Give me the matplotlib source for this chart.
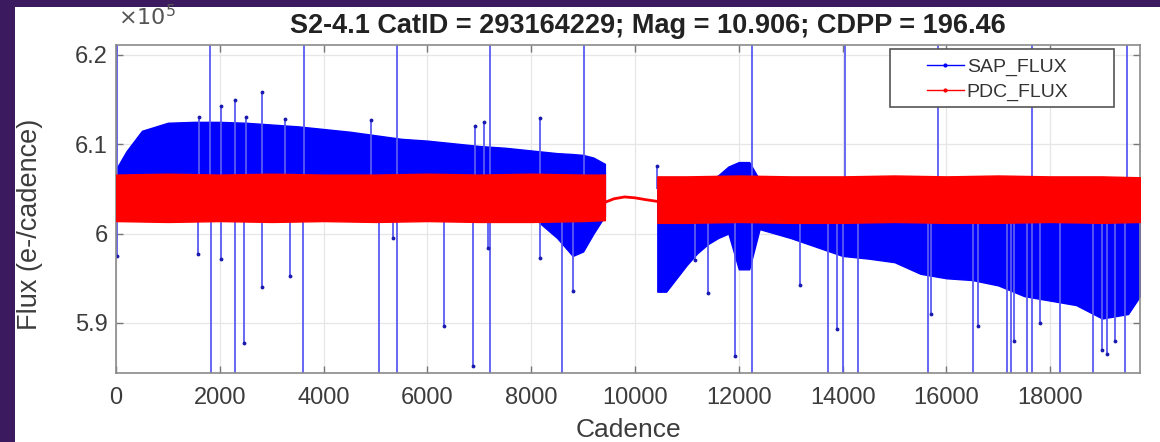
import matplotlib.pyplot as plt
from matplotlib.lines import Line2D
from matplotlib.patches import Rectangle

plt.rcParams['font.family'] = ['Liberation Sans', 'DejaVu Sans']

# flux values are in units of 1e5 e-/cadence
# SAP_FLUX band, first segment (envelope)
sap1_cad = [0, 200, 500, 1000, 1500, 2000, 2500, 3000, 3500, 4000, 4500, 5000, 5500,
            6000, 6500, 7000, 7500, 8000, 8500, 8800, 9000, 9200, 9420]
sap1_hi = [6.072, 6.092, 6.115, 6.124, 6.125, 6.125, 6.124, 6.122, 6.120, 6.117, 6.114, 6.110, 6.106,
           6.104, 6.101, 6.098, 6.096, 6.093, 6.090, 6.089, 6.088, 6.085, 6.078]
sap1_lo = [6.030, 6.035, 6.040, 6.040, 6.040, 6.040, 6.040, 6.040, 6.040, 6.040, 6.040, 6.040, 6.040,
           6.040, 6.040, 6.035, 6.030, 6.020, 5.995, 5.975, 5.980, 6.000, 6.020]

# SAP_FLUX band, second segment
sap2_cad = [10430, 10600, 10800, 11000, 11200, 11400, 11600, 11800, 12000, 12200, 12400, 12700,
            13000, 13500, 14000, 14500, 15000, 15500, 16000, 16500, 17000, 17500, 18000, 18500,
            19000, 19500, 19730]
sap2_hi = [6.060, 6.060, 6.060, 6.060, 6.060, 6.060, 6.065, 6.075, 6.080, 6.080, 6.060, 6.055,
           6.050, 6.045, 6.040, 6.035, 6.030, 6.030, 6.025, 6.020, 6.020, 6.020, 6.015, 6.015,
           6.015, 6.015, 6.015]
sap2_lo = [5.935, 5.935, 5.950, 5.965, 5.978, 5.988, 5.995, 6.000, 5.960, 5.960, 6.005, 6.000,
           5.995, 5.985, 5.975, 5.972, 5.968, 5.955, 5.950, 5.948, 5.942, 5.930, 5.925, 5.920,
           5.905, 5.910, 5.930]

# PDC_FLUX band
pdc1_cad = [0, 1000, 2000, 3000, 4000, 5000, 6000, 7000, 8000, 9000, 9420]
pdc1_hi = [6.066, 6.067, 6.066, 6.067, 6.066, 6.066, 6.067, 6.066, 6.067, 6.066, 6.066]
pdc1_lo = [6.014, 6.013, 6.014, 6.013, 6.014, 6.013, 6.014, 6.013, 6.013, 6.014, 6.015]
gap_cad = [9420, 9600, 9800, 10000, 10200, 10430]
gap_val = [6.035, 6.039, 6.041, 6.040, 6.038, 6.036]
pdc2_cad = [10430, 11000, 12000, 13000, 14000, 15000, 16000, 17000, 18000, 19000, 19730]
pdc2_hi = [6.064, 6.064, 6.065, 6.064, 6.064, 6.065, 6.064, 6.065, 6.064, 6.064, 6.063]
pdc2_lo = [6.012, 6.012, 6.013, 6.012, 6.012, 6.013, 6.012, 6.012, 6.013, 6.012, 6.013]

# single-cadence outliers of SAP_FLUX (values past the limits run off the axes)
up_cad = [10, 1600, 1820, 2020, 2290, 2500, 2810, 3250, 3620, 4920, 5410, 6920, 7100,
          7210, 8170, 9020, 10420, 12250, 14050, 15840, 17650, 19480]
up_val = [6.30, 6.130, 6.30, 6.143, 6.150, 6.130, 6.158, 6.128, 6.30, 6.127, 6.30, 6.120, 6.125,
          6.30, 6.129, 6.30, 6.076, 6.30, 6.30, 6.30, 6.30, 6.30]
dn_cad = [20, 1585, 1830, 2020, 2290, 2470, 2810, 3350, 3610, 5070, 5340, 5410, 6320, 6880,
          7170, 7210, 8170, 8590, 8810, 11160, 11410, 11930, 12250, 13180, 13720, 13890, 14010,
          14300, 15650, 15700, 16510, 16610, 17170, 17250, 17300, 17550, 17650, 17800, 18190,
          18830, 19000, 19100, 19250, 19440]
dn_val = [5.975, 5.977, 5.70, 5.971, 5.70, 5.878, 5.940, 5.953, 5.70, 5.70, 5.995, 5.70, 5.897, 5.852,
          5.984, 5.70, 5.973, 5.70, 5.936, 5.970, 5.933, 5.863, 5.70, 5.942, 5.70, 5.893, 5.70,
          5.70, 5.70, 5.910, 5.70, 5.897, 5.70, 5.70, 5.880, 5.70, 5.70, 5.900, 5.70,
          5.70, 5.870, 5.865, 5.880, 5.70]

x_ticks = [0, 2000, 4000, 6000, 8000, 10000, 12000, 14000, 16000, 18000]
y_ticks = [5.9, 6.0, 6.1, 6.2]
y_labels = ['5.9', '6', '6.1', '6.2']

title = 'S2-4.1 CatID = 293164229; Mag = 10.906; CDPP = 196.46'

W, H = 1160, 442
fig = plt.figure(figsize=(W / 100, H / 100), dpi=100, facecolor='#3b1a60')
fig.patches.append(Rectangle((15 / W, 0), 1 - 15 / W, (H - 7) / H, transform=fig.transFigure,
                             facecolor='white', edgecolor='none', zorder=-10))

ax = fig.add_axes([116 / W, (H - 373) / H, (1140 - 116) / W, (373 - 45) / H])
ax.set_zorder(5)
ax.set_xlim(0, 19730)
ax.set_ylim(5.844, 6.211)

blue = '#0000ff'
spike_col = '#5a5af2'

# blue band + spikes first, red on top (plot order of the original)
ax.fill_between(sap1_cad, sap1_lo, sap1_hi, color=blue, lw=1, zorder=2)
ax.fill_between(sap2_cad, sap2_lo, sap2_hi, color=blue, lw=1, zorder=2)
ax.vlines(up_cad, 6.05, up_val, color=spike_col, lw=1.3, zorder=2)
ax.vlines(dn_cad, 6.03, dn_val, color=spike_col, lw=1.3, zorder=2)
ax.plot(up_cad, up_val, '.', color='#1a1ab0', ms=3.5, zorder=2)
ax.plot(dn_cad, dn_val, '.', color='#1a1ab0', ms=3.5, zorder=2)

ax.fill_between(pdc1_cad, pdc1_lo, pdc1_hi, color='red', lw=1, zorder=3)
ax.fill_between(pdc2_cad, pdc2_lo, pdc2_hi, color='red', lw=1, zorder=3)
ax.plot(gap_cad, gap_val, color='red', lw=2, zorder=3)

ax.set_xticks(x_ticks)
ax.set_xticklabels([str(t) for t in x_ticks])
ax.set_yticks(y_ticks)
ax.set_yticklabels(y_labels)
ax.grid(True, color='#e6e6e6', lw=0.9, zorder=0)
ax.set_axisbelow(True)
ax.tick_params(direction='in', length=5, width=1, color='#777777', labelcolor='#3c3c3c',
               labelsize=17, top=True, right=True)
ax.tick_params(axis='x', pad=10)
ax.tick_params(axis='y', pad=6)
for s in ax.spines.values():
    s.set_color('#8a8a8a')
    s.set_linewidth(1.2)

# legend box drawn by hand (wide MATLAB-style frame), entries inside it
box = Rectangle(((890 - 116) / 1024, (373 - 107) / 328), (1114 - 890) / 1024, (107 - 49) / 328,
                transform=ax.transAxes, facecolor='white', edgecolor='#555555', lw=1.2,
                zorder=9, clip_on=False)
ax.add_patch(box)
handles = [Line2D([], [], color=blue, marker='.', ms=4, lw=1),
           Line2D([], [], color='red', marker='.', ms=4, lw=1)]
leg = ax.legend(handles, ['SAP_FLUX', 'PDC_FLUX'], loc='upper left',
                bbox_to_anchor=((927 - 116) / 1024, (373 - 58) / 328), fontsize=14,
                frameon=False, handlelength=1.9, handletextpad=0.15, borderpad=0,
                labelspacing=0.4, borderaxespad=0)
leg.set_zorder(10)
for t in leg.get_texts():
    t.set_color('#333333')

fig.text(648 / W, 1 - 26 / H, title, ha='center', va='center', fontsize=19.5,
         fontweight='bold', color='#222222')
fig.text(118 / W, 1 - 18 / H, r'$\times10^5$', ha='left', va='center', fontsize=16,
         color='#555555')
fig.text(30 / W, 1 - 224 / H, 'Flux (e-/cadence)', rotation=90, ha='center', va='center',
         fontsize=19.5, color='#3c3c3c')
fig.text(628 / W, 1 - 430 / H, 'Cadence', ha='center', va='center', fontsize=19,
         color='#3c3c3c')

fig.savefig('out.png', dpi=100, facecolor=fig.get_facecolor())
